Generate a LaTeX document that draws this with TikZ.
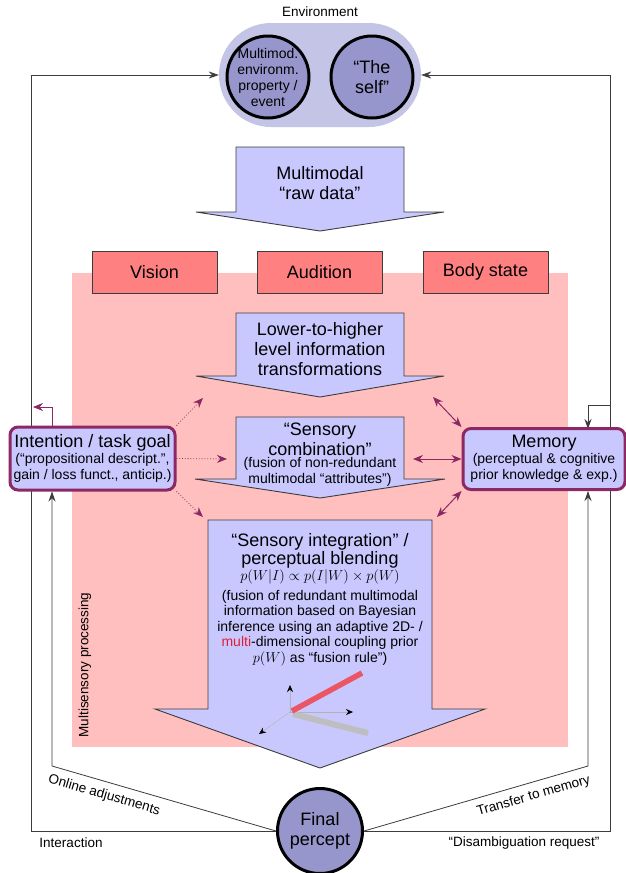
\documentclass[tikz,border=0pt]{standalone}
\usepackage{amsmath,amssymb}
\usepackage{fontspec}
\setmainfont{Liberation Sans}
\usetikzlibrary{arrows.meta}
\definecolor{blockblue}{RGB}{200,200,255}
\definecolor{procpink}{RGB}{255,191,191}
\definecolor{modred}{RGB}{255,128,128}
\definecolor{envlilac}{RGB}{196,196,230}
\definecolor{circlilac}{RGB}{150,150,205}
\definecolor{linkpurple}{RGB}{140,40,100}
\definecolor{edgegray}{RGB}{60,60,60}
\definecolor{barred}{RGB}{235,85,100}
\definecolor{bargray}{RGB}{190,190,190}
\definecolor{multired}{RGB}{225,30,50}

\newcommand{\blockarrow}[5]{%
  \draw[blockshape] (320-#1,#2) -- (320+#1,#2) -- (320+#1,#3) -- (320+#4,#3)
    -- (320,#5) -- (320-#4,#3) -- (320-#1,#3) -- cycle;}

\begin{document}
\begin{tikzpicture}[x=1pt,y=-1pt,
    bigfont/.style={font=\fontsize{18}{20}\selectfont},
    smallfont/.style={font=\fontsize{14}{15.5}\selectfont},
    labelfont/.style={font=\fontsize{13.5}{15}\selectfont},
    blockshape/.style={draw=edgegray,line width=0.9pt,fill=blockblue},
    modbox/.style={draw=edgegray,line width=0.9pt,fill=modred,minimum width=125pt,minimum height=42pt,bigfont},
    goalbox/.style={draw=linkpurple,line width=3pt,rounded corners=8pt,fill=blockblue,align=center,inner sep=0pt,font=\fontsize{14}{16}\selectfont},
    envcircle/.style={circle,draw=black,line width=3pt,fill=circlilac,minimum size=82pt,inner sep=0pt},
    loopline/.style={draw=edgegray,line width=0.8pt},
    blackhead/.style={-{Stealth[length=10pt,width=7pt]}},
    dotlink/.style={linkpurple,line width=0.8pt,dotted,-{Stealth[length=10pt,width=8pt]}},
    memlink/.style={linkpurple,line width=1pt,{Stealth[length=10pt,width=8pt]}-{Stealth[length=10pt,width=8pt]}},
    axisline/.style={draw=gray!60,line width=0.4pt,-{Stealth[black,length=7pt,width=6pt]}}
]
\useasboundingbox (0,0) rectangle (626,873);

\fill[procpink] (72,273) rectangle (568,747);
\node[labelfont,rotate=90] (multisens) at (85,665) {Multisensory processing};

\node[labelfont] (envlabel) at (320,12) {Environment};
\node[fill=envlilac,rounded corners=52pt,minimum width=202pt,minimum height=104pt] (env) at (320,75) {};
\node[envcircle] (event) at (268,77) {};
\node[align=center,font=\fontsize{14}{16}\selectfont] (eventtext) at (event) {Multimod.\\environm.\\property /\\event};
\node[envcircle] (self) at (372,77) {};
\node[align=center,bigfont] (selftext) at (self) {“The\\self”};

\blockarrow{84}{147}{212}{124}{231}
\node[bigfont,align=center] (rawdata) at (320,183) {Multimodal\\“raw data”};

\node[modbox] (vision) at (154.5,272) {Vision};
\node[modbox] (audition) at (319.5,272) {Audition};
\node[modbox] (body) at (485.5,272) {Body state};

\blockarrow{84}{313}{376}{124}{397}
\node[bigfont,align=center] (lower) at (320,349) {Lower-to-higher\\level information\\transformations};

\blockarrow{84}{417}{479}{125}{498}
\node[bigfont,align=center] (combi) at (320,439) {“Sensory\\combination”};
\node[smallfont,align=center] (combinote) at (320,472) {(fusion of non-redundant\\multimodal “attributes”)};

\blockarrow{112}{520}{709}{165}{768}
\node[font=\fontsize{18}{18.5}\selectfont,align=center] (integ) at (320,551) {“Sensory integration” /\\perceptual blending};
\node[smallfont] (bayes) at (320,577) {$p(W|I)\propto p(I|W)\times p(W)$};
\node[smallfont,align=center] (integnote) at (320,628) {(fusion of redundant multimodal\\information based on Bayesian\\inference using an adaptive 2D- /\\\textcolor{multired}{multi}-dimensional coupling prior\\$p(W)$ as “fusion rule”)};

\coordinate (orig) at (290,712);
\draw[axisline] (orig) -- (290,685);
\draw[axisline] (orig) -- (353,712);
\draw[axisline] (orig) -- (259,734);
\draw[line width=6pt,bargray] (293,714) -- (368,733);
\draw[line width=5.5pt,barred] (292,711) -- (362,673);

\node[circle,draw=black,line width=3pt,fill=circlilac,minimum size=85pt,inner sep=0pt,bigfont,align=center] (final) at (320,831) {Final\\percept};

\coordinate (lbot) at (31,831);
\coordinate (ltop) at (31,75);
\coordinate (rbot) at (610,831);
\coordinate (rtop) at (610,75);
\coordinate (rjoin) at (610,405);
\coordinate (lin) at (52,766);
\coordinate (rin) at (588,766);
\coordinate (lhook) at (33,407);
\draw[loopline,blackhead] (final.west) -- (lbot) -- (ltop) -- (env.west);
\draw[loopline,blackhead] (final.east) -- (rbot) -- (rtop) -- (env.east);
\draw[loopline,blackhead] (rjoin) -| (rin |- 429,429);

\node[goalbox,minimum width=165pt,minimum height=63pt] (intent) at (92.5,458.5) {{\fontsize{18}{20}\selectfont Intention / task goal}\\(“propositional descript.”,\\gain / loss funct., anticip.)};
\node[goalbox,minimum width=162pt,minimum height=61pt] (mem) at (544,459) {{\fontsize{18}{20}\selectfont Memory}\\(perceptual \& cognitive\\prior knowledge \& exp.)};

\draw[loopline,blackhead] (final.west) -- (lin) -- (lin |- intent.south);
\draw[loopline,blackhead] (final.east) -- (rin) -- (rin |- mem.south);
\draw[linkpurple,line width=0.8pt,-{Stealth[length=10pt,width=8pt]}] (lin |- intent.north) |- (lhook);

\path (lin) -- node[labelfont,sloped,below=4pt,pos=0.25] {Online adjustments} (final.west);
\path (final.east) -- node[labelfont,sloped,below=4pt,pos=0.74] {Transfer to memory} (rin);
\node[labelfont] (interact) at (71,843) {Interaction};
\node[labelfont] (disamb) at (524,843) {“Disambiguation request”};

\coordinate (lowerL) at (203,398);
\coordinate (combiL) at (227,459);
\coordinate (integL) at (203,517);
\coordinate (lowerR) at (433,397);
\coordinate (combiR) at (413,459);
\coordinate (integR) at (437,517);
\draw[dotlink] (intent.north east) -- (lowerL);
\draw[dotlink] (intent.east) -- (combiL);
\draw[dotlink] (intent.south east) -- (integL);
\draw[memlink] (mem.north west) -- (lowerR);
\draw[memlink] (mem.west) -- (combiR);
\draw[memlink] (mem.south west) -- (integR);
\end{tikzpicture}
\end{document}
